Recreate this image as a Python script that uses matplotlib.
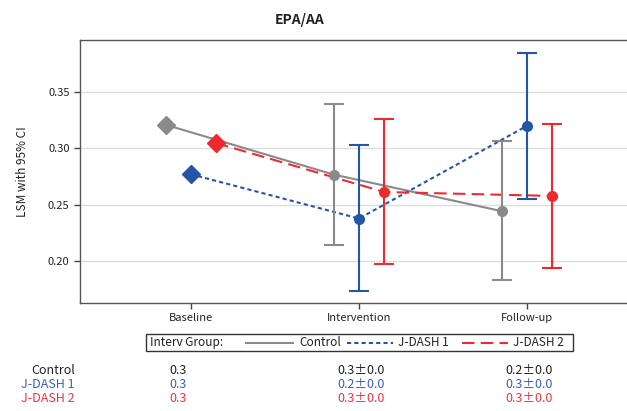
import matplotlib
matplotlib.use("Agg")
import matplotlib.pyplot as plt
from matplotlib.lines import Line2D
from matplotlib.patches import Rectangle

plt.rcParams['font.family'] = ['Noto Sans CJK JP', 'DejaVu Sans']

visits = ['Baseline', 'Intervention', 'Follow-up']
groups = ['Control', 'J-DASH 1', 'J-DASH 2']

# least-squares means and 95% CI per group (baseline has no CI)
lsm = {
    'Control':  [0.3206, 0.2765, 0.2441],
    'J-DASH 1': [0.2768, 0.2376, 0.3197],
    'J-DASH 2': [0.3044, 0.2611, 0.2576],
}
ci_low = {
    'Control':  [None, 0.2146, 0.1832],
    'J-DASH 1': [None, 0.1737, 0.2553],
    'J-DASH 2': [None, 0.1973, 0.1935],
}
ci_high = {
    'Control':  [None, 0.3386, 0.3067],
    'J-DASH 1': [None, 0.3027, 0.3840],
    'J-DASH 2': [None, 0.3257, 0.3215],
}
sd = {
    'Control':  [None, 0.0, 0.0],
    'J-DASH 1': [None, 0.0, 0.0],
    'J-DASH 2': [None, 0.0, 0.0],
}

colors = {'Control': '#8a8a8a', 'J-DASH 1': '#2456a8', 'J-DASH 2': '#ee2a30'}
text_colors = {'Control': '#222222', 'J-DASH 1': '#3a5fc0', 'J-DASH 2': '#ee3040'}
styles = {'Control': '-', 'J-DASH 1': (0, (2, 1.5)), 'J-DASH 2': (0, (6, 3))}
offsets = {'Control': -0.15, 'J-DASH 1': 0.0, 'J-DASH 2': 0.15}

W, H = 627, 411
fig = plt.figure(figsize=(W / 100, H / 100), dpi=100)
ax = fig.add_axes([80 / W, 1 - 303 / H, 558 / W, 263 / H])

for g in groups:
    xs = [i + offsets[g] for i in range(len(visits))]
    c = colors[g]
    ax.plot(xs, lsm[g], color=c, linestyle=styles[g], lw=1.5, zorder=3)
    ax.plot(xs[0], lsm[g][0], marker='D', ms=9, color=c, ls='none', zorder=4)
    for i in range(1, len(visits)):
        lo, hi = ci_low[g][i], ci_high[g][i]
        ax.errorbar(xs[i], lsm[g][i], yerr=[[lsm[g][i] - lo], [hi - lsm[g][i]]],
                    fmt='o', ms=7, color=c, ecolor=c, elinewidth=1.5,
                    capsize=7, capthick=1.5, zorder=4)

ax.set_xlim(-0.66, 2.66)
ax.set_ylim(0.1628, 0.3957)
ax.set_xticks(range(len(visits)))
ax.set_xticklabels(visits)
ax.set_yticks([0.20, 0.25, 0.30, 0.35])
ax.set_yticklabels(['0.20', '0.25', '0.30', '0.35'])
ax.tick_params(labelsize=8, colors='#444444', labelcolor='#222222', length=4, width=1)
ax.yaxis.grid(True, color='#dddddd', lw=1)
ax.set_axisbelow(True)
for s in ax.spines.values():
    s.set_color('#555555')
    s.set_linewidth(1)
ax.set_ylabel('LSM with 95% CI', fontsize=8.5, color='#222222', labelpad=14)

fig.text(300 / W, 1 - 20 / H, 'EPA/AA', ha='center', va='center',
         fontsize=10, fontweight='bold', color='#222222')

# legend strip
def px(x, y):
    return x / W, 1 - y / H

x0, y0 = px(146, 351)
x1, y1 = px(573, 334)
fig.add_artist(Rectangle((x0, y0), x1 - x0, y1 - y0, transform=fig.transFigure,
                         fill=False, edgecolor='#333333', lw=1))
ly = 1 - 342.5 / H
fig.text(150 / W, ly, 'Interv Group:', ha='left', va='center', fontsize=8.5, color='#222222')
legend_pos = {'Control': (246, 293, 299), 'J-DASH 1': (347, 393, 398), 'J-DASH 2': (462, 508, 513)}
for g in groups:
    a, b, t = legend_pos[g]
    fig.add_artist(Line2D([a / W, b / W], [ly, ly], transform=fig.transFigure,
                          color=colors[g], linestyle=styles[g], lw=1.5))
    fig.text(t / W, ly, g, ha='left', va='center', fontsize=8.5, color='#222222')

# summary rows under the axis
row_y = [370.7, 384.3, 398.3]
for r, g in enumerate(groups):
    yy = 1 - row_y[r] / H
    fig.text(75 / W, yy, g, ha='right', va='center', fontsize=9, color=text_colors[g])
    for i in range(len(visits)):
        if i == 0:
            s = f"{lsm[g][i]:.1f}"
        else:
            s = f"{lsm[g][i]:.1f}\u00b1{sd[g][i]:.1f}"
        xpix = 190.7 + 168.3 * i - 21.5
        fig.text(xpix / W, yy, s, ha='left', va='center', fontsize=9, color=text_colors[g])

fig.savefig('out.png', dpi=100)
